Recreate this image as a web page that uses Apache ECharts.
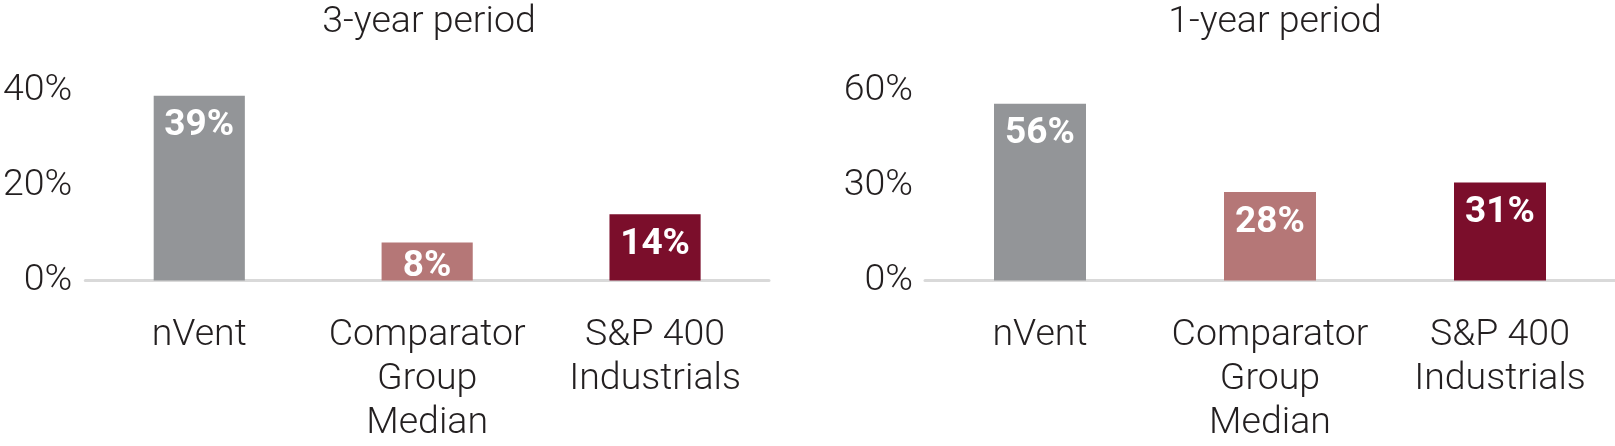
<!DOCTYPE html>
<html>
<head>
<meta charset="utf-8">
<script src="https://cdn.jsdelivr.net/npm/echarts@6/dist/echarts.min.js"></script>
<style>
html,body{margin:0;padding:0;background:#fff;}
#c{width:1615px;height:446px;}
</style>
</head>
<body>
<div id="c"></div>
<script>
const categories = ['nVent', 'Comparator\nGroup\nMedian', 'S&P 400\nIndustrials'];
const colors = ['#939598', '#B57777', '#7B0E2B'];
const titles = ['3-year period', '1-year period'];
const values3yr = [39, 8, 14];
const values1yr = [56, 28, 31];
const ticks3yr = { max: 40, interval: 20 };
const ticks1yr = { max: 60, interval: 30 };

const textColor = '#231F20';
const font = 'Roboto';
const fs = 37.5;

function xAxis(gridIndex) {
  return {
    type: 'category', gridIndex, data: categories, offset: 1.5,
    axisLine: { show: true, lineStyle: { color: '#D9D9D9', width: 3 } },
    axisTick: { show: false },
    axisLabel: { color: textColor, fontFamily: font, fontWeight: 300, fontSize: fs, lineHeight: 44, margin: 32, interval: 0 }
  };
}
function yAxis(gridIndex, t, margin) {
  return {
    type: 'value', gridIndex, min: 0, max: t.max, interval: t.interval,
    axisLine: { show: false }, axisTick: { show: false }, splitLine: { show: false },
    axisLabel: { color: textColor, fontFamily: font, fontWeight: 300, fontSize: fs, margin, formatter: '{value}%', padding: [0, 0, 4, 0] }
  };
}
function series(idx, vals) {
  return {
    type: 'bar', xAxisIndex: idx, yAxisIndex: idx, barWidth: '40%',
    data: vals.map((v, i) => ({
      value: v,
      itemStyle: { color: colors[i] },
      label: { distance: v < 10 ? 6 : 12 }
    })),
    label: { show: true, position: 'insideTop', distance: 12, color: '#fff', fontFamily: font, fontWeight: 'bold', fontSize: 37, lineHeight: 37, formatter: '{c}%' }
  };
}

const chart = echarts.init(document.getElementById('c'), null, { renderer: 'canvas' });
chart.setOption({
  animation: false,
  title: [
    { text: titles[0], left: 424, top: 0, textAlign: 'center', textStyle: { color: textColor, fontFamily: font, fontWeight: 300, fontSize: fs, lineHeight: 36 } },
    { text: titles[1], left: 1270, top: 0, textAlign: 'center', textStyle: { color: textColor, fontFamily: font, fontWeight: 300, fontSize: fs, lineHeight: 36 } }
  ],
  grid: [
    { left: 80, right: 846, top: 91, bottom: 161 },
    { left: 925, right: 0, top: 91, bottom: 161 }
  ],
  xAxis: [xAxis(0), xAxis(1)],
  yAxis: [yAxis(0, ticks3yr, 13), yAxis(1, ticks1yr, 12)],
  series: [series(0, values3yr), series(1, values1yr)]
});
</script>
</body>
</html>
